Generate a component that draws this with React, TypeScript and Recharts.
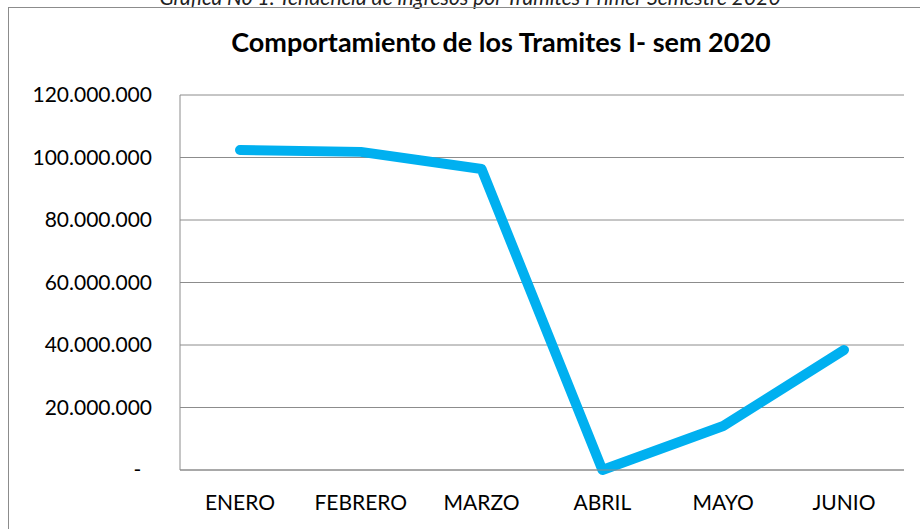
import { LineChart, Line, XAxis, YAxis, CartesianGrid } from "recharts";

const months = ["ENERO", "FEBRERO", "MARZO", "ABRIL", "MAYO", "JUNIO"];
const tramites = [102400000, 101800000, 96300000, 0, 14100000, 38400000];
const yTicks = [0, 20000000, 40000000, 60000000, 80000000, 100000000, 120000000];

const data = months.map((m, i) => ({ mes: m, valor: tramites[i] }));

const FONT = "Lato, 'Open Sans', sans-serif";
const GRID = "#8c8c8c";

const formatY = (v: number) =>
  v === 0 ? "-\u00a0\u00a0" : String(v).replace(/\B(?=(\d{3})+(?!\d))/g, ".");

export default function App() {
  return (
    <div
      style={{
        position: "absolute",
        left: 0,
        top: 0,
        width: 920,
        height: 529,
        overflow: "hidden",
        background: "#fff",
      }}
    >
      <div style={{ position: "absolute", left: 0, top: 0 }}>
        <LineChart
          width={920}
          height={529}
          data={data}
          margin={{ top: 95, right: 16, bottom: 29, left: 0 }}
        >
          <CartesianGrid vertical={false} stroke={GRID} strokeWidth={1} />
          <XAxis
            dataKey="mes"
            height={30}
            padding={{ left: 60, right: 60 }}
            axisLine={{ stroke: GRID }}
            tickLine={false}
            tickSize={0}
            tickMargin={25}
            interval={0}
            tick={{ fill: "#000", fontSize: 21, fontFamily: FONT }}
          />
          <YAxis
            width={180}
            domain={[0, 120000000]}
            ticks={yTicks}
            tickFormatter={formatY}
            axisLine={{ stroke: GRID }}
            tickLine={false}
            tickSize={0}
            tickMargin={28}
            tick={{ fill: "#000", fontSize: 21, fontFamily: FONT }}
          />
          <Line
            type="linear"
            dataKey="valor"
            stroke="#00b0f0"
            strokeWidth={10}
            strokeLinecap="round"
            strokeLinejoin="round"
            dot={false}
            activeDot={false}
            isAnimationActive={false}
          />
        </LineChart>
      </div>
      {/* caption, frame and title drawn on top */}
      <svg
        width={920}
        height={529}
        style={{ position: "absolute", left: 0, top: 0, pointerEvents: "none" }}
      >
        <text
          x={470}
          y={5}
          textAnchor="middle"
          fontFamily={FONT}
          fontStyle="italic"
          fontSize={21}
          fill="#222"
        >
          Grafica No 1. Tendencia de ingresos por Tramites Primer Semestre 2020
        </text>
        <rect x={8.5} y={7.5} width={1000} height={1000} fill="none" stroke={GRID} />
        <text
          x={501}
          y={52}
          textAnchor="middle"
          fontFamily={FONT}
          fontWeight={700}
          fontSize={27}
          fill="#000"
        >
          Comportamiento de los Tramites I- sem 2020
        </text>
      </svg>
    </div>
  );
}
